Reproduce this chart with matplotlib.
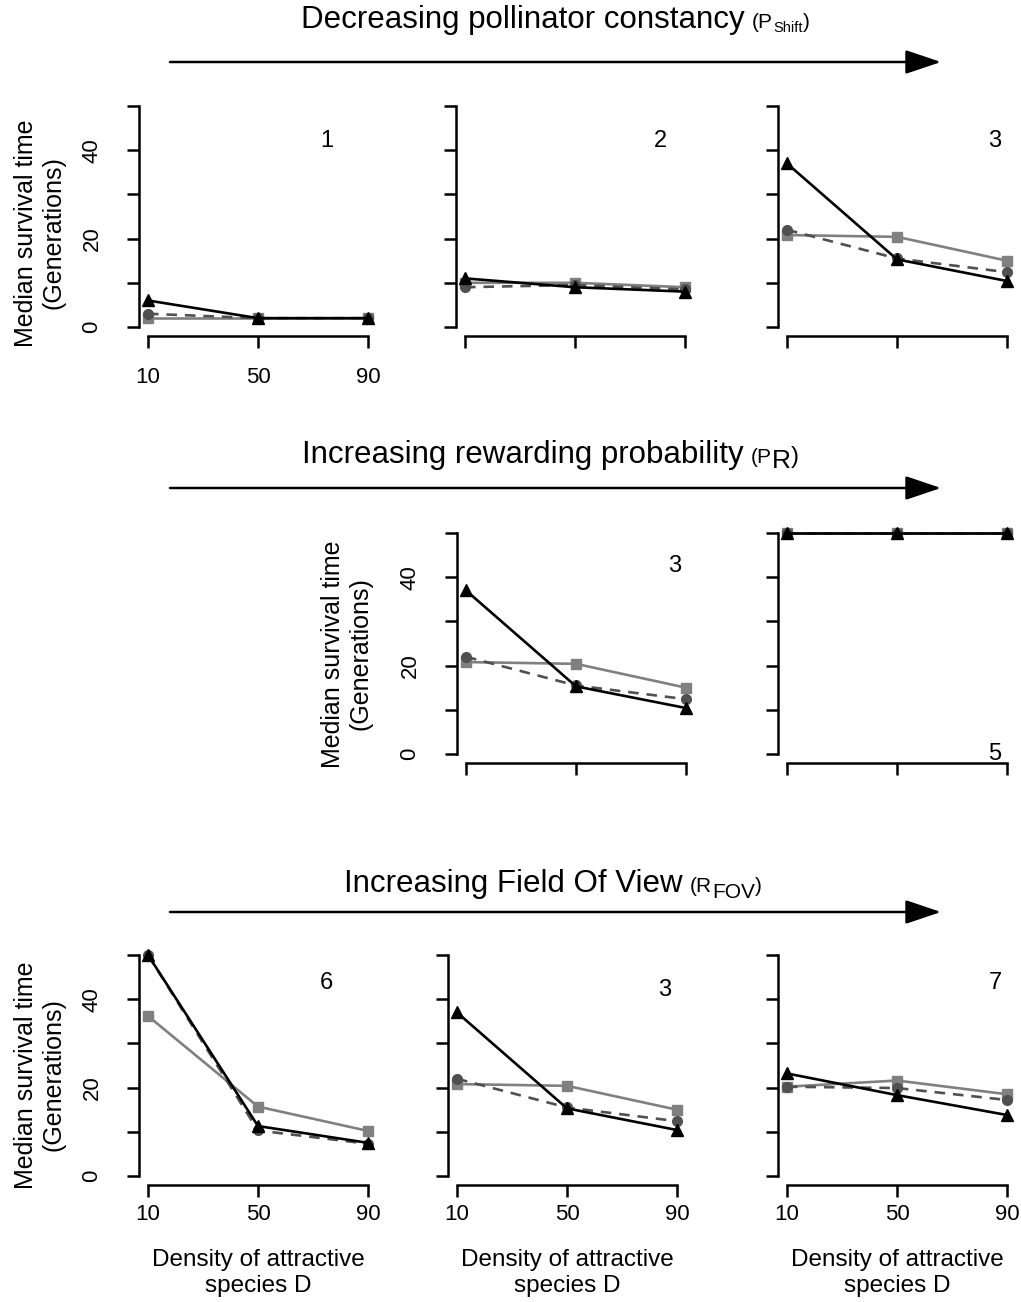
import matplotlib
matplotlib.use('Agg')
import matplotlib.pyplot as plt

plt.rcParams['font.family'] = ['Liberation Sans', 'DejaVu Sans']

# x values shared by every panel
density = [10, 50, 90]

# median survival time per configuration: squares (grey), circles (dashed), triangles (black)
cfg1_sq = [2, 2, 2]
cfg1_ci = [3, 2, 2]
cfg1_tr = [6, 2, 2]

cfg2_sq = [10, 10, 9]
cfg2_ci = [9, 9.5, 8.5]
cfg2_tr = [11, 9, 8]

cfg3_sq = [20.8, 20.4, 15]
cfg3_ci = [22, 15.5, 12.4]
cfg3_tr = [37, 15.3, 10.4]

cfg5_sq = [50, 50, 50]
cfg5_ci = [50, 50, 50]
cfg5_tr = [50, 50, 50]

cfg6_sq = [36.2, 15.7, 10.2]
cfg6_ci = [50, 10.3, 7.3]
cfg6_tr = [50, 11.3, 7.5]

cfg7_sq = [20.2, 21.6, 18.5]
cfg7_ci = [20.2, 19.9, 17.2]
cfg7_tr = [23.2, 18.3, 13.8]

row_titles = ['Decreasing pollinator constancy', 'Increasing rewarding probability',
              'Increasing Field Of View']
# (text, fontsize, vertical shift in px) pieces of the small parameter labels
row_subs = [[('(P', 15, 0), ('Shift', 10.5, 4), (')', 15, 0)],
            [('(P', 15, 0), ('R', 19, 5), (')', 17, 0)],
            [('(R', 15, 0), ('FOV', 15, 6), (')', 15, 0)]]

W, H = 1021, 1302
PX_X = 2.75   # pixels per x unit
PX_Y = 4.42   # pixels per y unit

fig = plt.figure(figsize=(W / 100, H / 100), dpi=100)


def make_axes(tick10_x, y50):
    left = tick10_x - 3.2 * PX_X
    top = y50 - 2 * PX_Y
    w = 86.4 * PX_X
    h = 54 * PX_Y
    return fig.add_axes([left / W, 1 - (top + h) / H, w / W, h / H])


def panel(tick10_x, y50, sq, ci, tr, num, num_xy, xlabels=False, ylabels=False,
          xpad=16, xtitle=False):
    ax = make_axes(tick10_x, y50)
    ax.plot(density, sq, '-s', color='#808080', lw=1.9, ms=6.5)
    ax.plot(density, ci, '--o', color='#505050', lw=1.9, ms=7, dashes=(4, 3))
    ax.plot(density, tr, '-^', color='black', lw=1.9, ms=9)
    ax.set_xlim(6.8, 93.2)
    ax.set_ylim(-2, 52)
    for s in ['top', 'right']:
        ax.spines[s].set_visible(False)
    ax.spines['left'].set_bounds(0, 50)
    ax.spines['bottom'].set_bounds(10, 90)
    ax.spines['left'].set_linewidth(1.8)
    ax.spines['bottom'].set_linewidth(1.8)
    ax.set_xticks(density)
    ax.set_yticks([0, 10, 20, 30, 40, 50])
    ax.tick_params(length=8.5, width=1.8, labelsize=16)
    ax.tick_params(axis='y', pad=18)
    ax.tick_params(axis='x', pad=xpad)
    if xlabels:
        ax.set_xticklabels([str(d) for d in density])
    else:
        ax.set_xticklabels([])
    if ylabels:
        ax.set_yticklabels(['0', '', '20', '', '40', ''], rotation=90, va='center')
    else:
        ax.set_yticklabels([])
    ax.text(num_xy[0], num_xy[1], num, fontsize=17, ha='center', va='center')
    if xtitle:
        ax.text(50, -0.37, 'Density of attractive\nspecies D', fontsize=17.5,
                ha='center', va='center', linespacing=1.22,
                transform=ax.get_xaxis_transform())
    return ax


# row 1
panel(148, 106, cfg1_sq, cfg1_ci, cfg1_tr, '1', (75, 42), xlabels=True, ylabels=True, xpad=14)
panel(465, 106, cfg2_sq, cfg2_ci, cfg2_tr, '2', (81, 42))
panel(787, 106, cfg3_sq, cfg3_ci, cfg3_tr, '3', (85.6, 42))
# row 2
panel(466, 533, cfg3_sq, cfg3_ci, cfg3_tr, '3', (86, 42.5), ylabels=True)
panel(787, 533, cfg5_sq, cfg5_ci, cfg5_tr, '5', (85.6, 0))
# row 3
panel(148, 955, cfg6_sq, cfg6_ci, cfg6_tr, '6', (75, 43.7), xlabels=True, ylabels=True,
      xpad=5, xtitle=True)
panel(457, 955, cfg3_sq, cfg3_ci, cfg3_tr, '3', (85.6, 42), xlabels=True, xpad=5, xtitle=True)
panel(787, 955, cfg7_sq, cfg7_ci, cfg7_tr, '7', (85.6, 43.7), xlabels=True, xpad=5, xtitle=True)

# overlay in pixel coordinates for titles, arrows and y labels
ov = fig.add_axes([0, 0, 1, 1])
ov.set_xlim(0, W)
ov.set_ylim(H, 0)
ov.axis('off')

renderer = fig.canvas.get_renderer()

title_base = [28, 463, 892]
title_end = [745, 744, 683]
arrow_y = [62, 488, 912]
for i in range(3):
    ov.text(title_end[i], title_base[i], row_titles[i], fontsize=22.5, ha='right',
            va='baseline')
    x = title_end[i] + 7
    for txt, fs, dy in row_subs[i]:
        t = ov.text(x, title_base[i] + dy, txt, fontsize=fs, ha='left', va='baseline')
        x += t.get_window_extent(renderer).width
    ov.annotate('', xy=(941, arrow_y[i]), xytext=(170, arrow_y[i]),
                arrowprops=dict(arrowstyle='-|>,head_length=1.1,head_width=0.37',
                                mutation_scale=20, lw=1.8, color='black',
                                shrinkA=0, shrinkB=0))

ylab = 'Median survival time\n(Generations)'
for x, y in [(40, 233), (347, 654), (40, 1075)]:
    ov.text(x, y, ylab, fontsize=18, rotation=90, ha='center', va='center',
            linespacing=1.2)

fig.savefig('out.png', dpi=100)
